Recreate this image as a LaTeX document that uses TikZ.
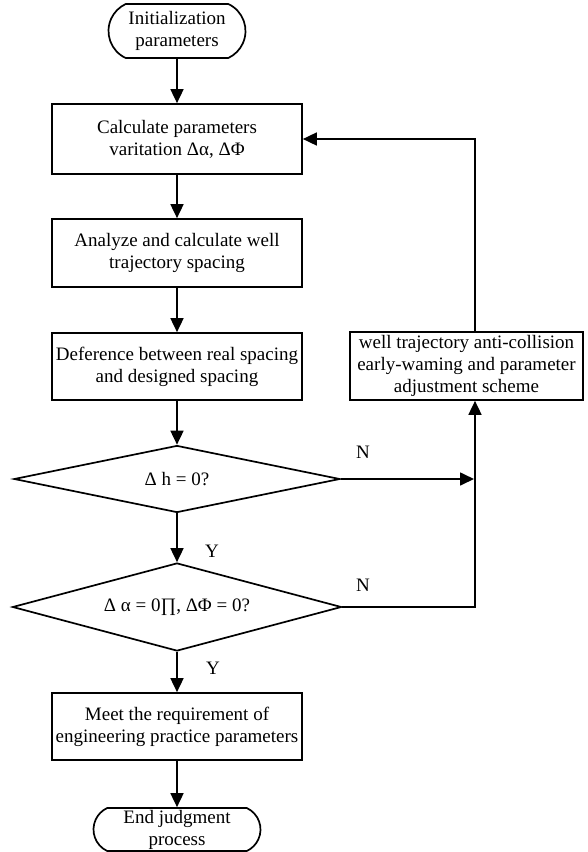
\documentclass[tikz,border=0pt]{standalone}
\usepackage{fontspec}
\setmainfont{Liberation Serif}
\usetikzlibrary{shapes.geometric,shapes.misc,arrows.meta}
\begin{document}
\begin{tikzpicture}[x=1pt,y=-1pt,
  line width=1.7pt,
  every node/.style={font=\fontsize{19}{22}\selectfont, align=center, inner sep=0pt},
  procbox/.style={draw, rectangle, minimum width=250pt},
  termbox/.style={draw, rounded rectangle, rounded rectangle arc length=130},
  decbox/.style={draw, diamond, aspect=3.7},
  flow/.style={-{Triangle[length=14pt,width=13pt]}},
  lbl/.style={font=\fontsize{19}{22}\selectfont}
]
\useasboundingbox (0,0) rectangle (587,852);
\node[termbox, minimum width=137pt, minimum height=54pt] (start) at (177,31) {Initialization\\parameters};
\node[procbox, minimum height=70pt] (b1) at (177,139) {Calculate parameters\\varitation Δα, ΔΦ};
\node[procbox, minimum height=68pt] (b2) at (177,253) {Analyze and calculate well\\trajectory spacing};
\node[procbox, minimum height=67pt] (b3) at (177,366.5) {Deference between real spacing\\and designed spacing};
\node[decbox, minimum width=326pt, minimum height=67pt] (d1) at (177,479) {Δ h = 0?};
\node[decbox, minimum width=329pt, minimum height=88pt] (d2) at (177,607) {Δ α = 0∏, ΔΦ = 0?};
\node[procbox, minimum height=67pt] (b4) at (177,726.5) {Meet the requirement of\\engineering practice parameters};
\node[termbox, minimum width=167pt, minimum height=43pt] (end) at (177,829.5) {End judgment\\process};
\node[draw, rectangle, minimum width=233pt, minimum height=68pt] (rb) at (466.5,366) {well trajectory anti-collision\\early-waming and parameter\\adjustment scheme};

\coordinate (vx) at (475,0);
\coordinate (corner) at (475,607);

\draw[flow] (start) -- (b1);
\draw[flow] (b1) -- (b2);
\draw[flow] (b2) -- (b3);
\draw[flow] (b3) -- (d1);
\draw[flow] (d1) -- (d2);
\draw[flow] (d2) -- (b4);
\draw[flow] (b4) -- (end);
\draw[flow, shorten >=1pt] (d1.east) -- (vx |- d1.east);
\draw[flow] (d2.east) -- (corner) -- (vx |- rb.south);
\draw[flow] (vx |- rb.north) -- (vx |- b1.east) -- (b1.east);

\node[lbl] (n1) at (363,452) {N};
\node[lbl] (n2) at (363,585) {N};
\node[lbl] (y1) at (212,551) {Y};
\node[lbl] (y2) at (213,668) {Y};
\end{tikzpicture}
\end{document}
